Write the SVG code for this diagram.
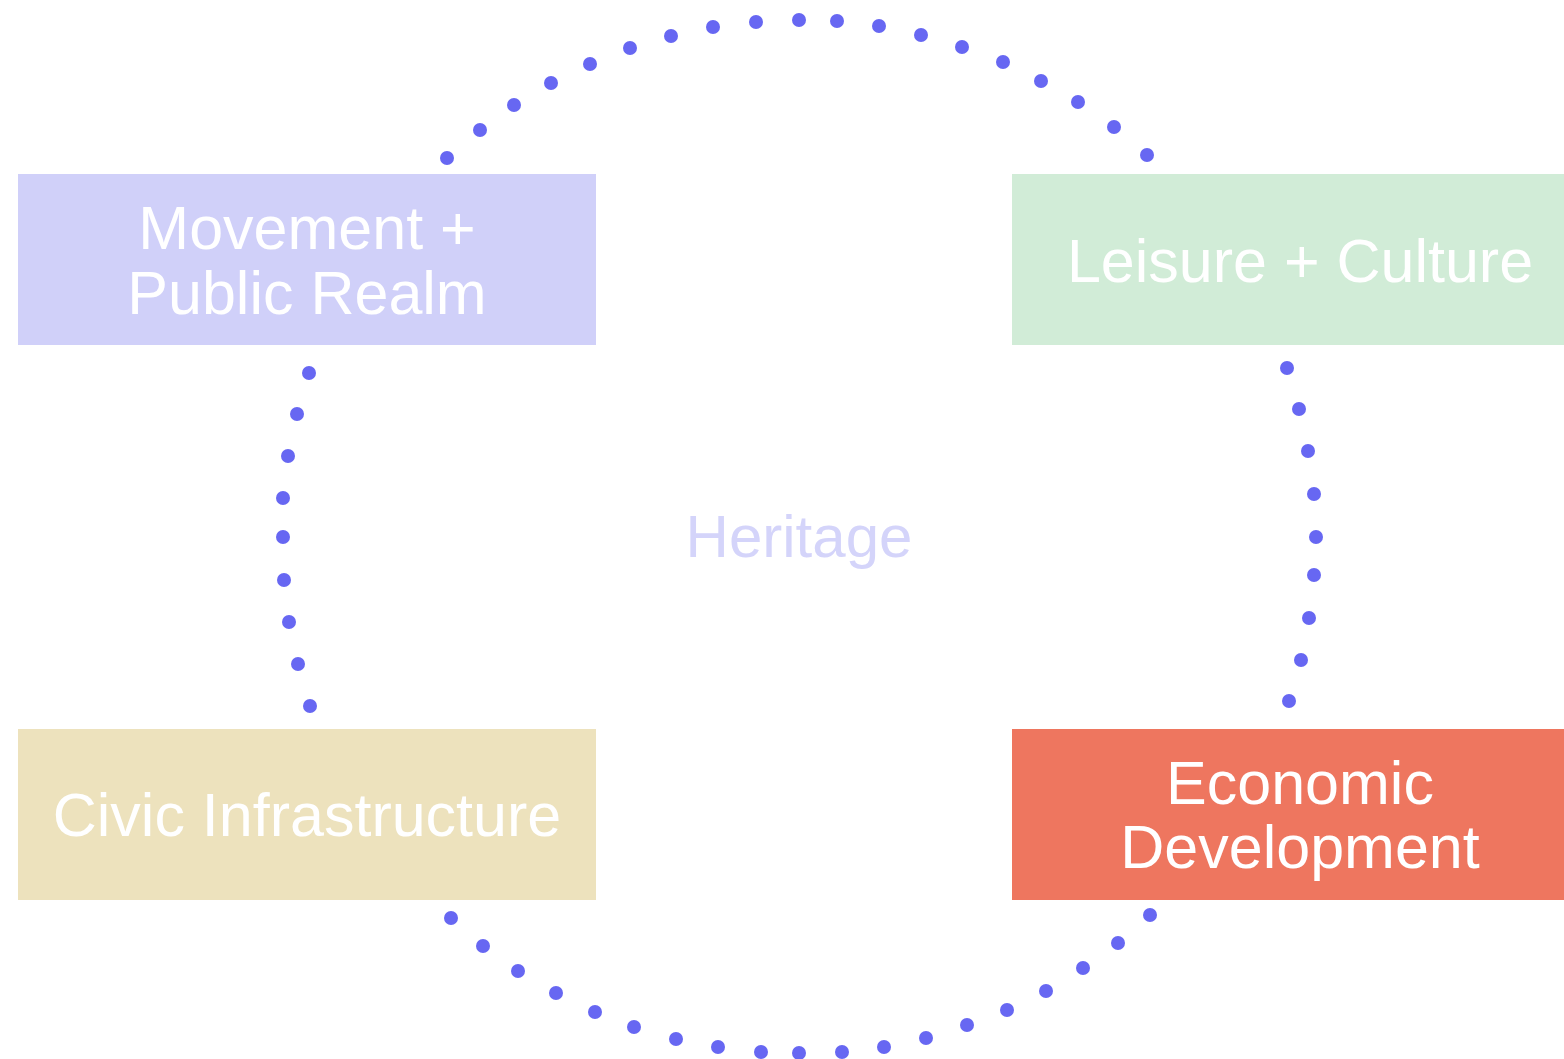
<svg xmlns="http://www.w3.org/2000/svg" width="1564" height="1059" viewBox="0 0 1564 1059">
<style>
.lbl{font-family:"Liberation Sans",Arial,sans-serif;font-size:61px;fill:#ffffff;text-anchor:middle}
.her{font-family:"Liberation Sans",Arial,sans-serif;font-size:60px;fill:#d4d4fa;text-anchor:middle}
.dot{fill:#6767f2}
</style>
<rect width="1564" height="1059" fill="#ffffff"/>
<g id="connectors">
<g id="top-arc">
<circle class="dot" cx="447" cy="158" r="7"/><circle class="dot" cx="480" cy="130" r="7"/><circle class="dot" cx="514" cy="105" r="7"/><circle class="dot" cx="551" cy="83" r="7"/><circle class="dot" cx="590" cy="64" r="7"/><circle class="dot" cx="630" cy="48" r="7"/><circle class="dot" cx="671" cy="36" r="7"/><circle class="dot" cx="713" cy="27" r="7"/><circle class="dot" cx="756" cy="22" r="7"/><circle class="dot" cx="799" cy="20" r="7"/><circle class="dot" cx="837" cy="21" r="7"/><circle class="dot" cx="879" cy="26" r="7"/><circle class="dot" cx="921" cy="35" r="7"/><circle class="dot" cx="962" cy="47" r="7"/><circle class="dot" cx="1003" cy="62" r="7"/><circle class="dot" cx="1041" cy="81" r="7"/><circle class="dot" cx="1078" cy="102" r="7"/><circle class="dot" cx="1114" cy="127" r="7"/><circle class="dot" cx="1147" cy="155" r="7"/>
</g>
<g id="left-arc">
<circle class="dot" cx="309" cy="373" r="7"/><circle class="dot" cx="297" cy="414" r="7"/><circle class="dot" cx="288" cy="456" r="7"/><circle class="dot" cx="283" cy="498" r="7"/><circle class="dot" cx="283" cy="537" r="7"/><circle class="dot" cx="284" cy="580" r="7"/><circle class="dot" cx="289" cy="622" r="7"/><circle class="dot" cx="298" cy="664" r="7"/><circle class="dot" cx="310" cy="706" r="7"/>
</g>
<g id="right-arc">
<circle class="dot" cx="1287" cy="368" r="7"/><circle class="dot" cx="1299" cy="409" r="7"/><circle class="dot" cx="1308" cy="451" r="7"/><circle class="dot" cx="1314" cy="494" r="7"/><circle class="dot" cx="1316" cy="537" r="7"/><circle class="dot" cx="1314" cy="575" r="7"/><circle class="dot" cx="1309" cy="618" r="7"/><circle class="dot" cx="1301" cy="660" r="7"/><circle class="dot" cx="1289" cy="701" r="7"/>
</g>
<g id="bottom-arc">
<circle class="dot" cx="451" cy="918" r="7"/><circle class="dot" cx="483" cy="946" r="7"/><circle class="dot" cx="518" cy="971" r="7"/><circle class="dot" cx="556" cy="993" r="7"/><circle class="dot" cx="595" cy="1012" r="7"/><circle class="dot" cx="634" cy="1027" r="7"/><circle class="dot" cx="676" cy="1039" r="7"/><circle class="dot" cx="718" cy="1047" r="7"/><circle class="dot" cx="761" cy="1052" r="7"/><circle class="dot" cx="799" cy="1053" r="7"/><circle class="dot" cx="842" cy="1052" r="7"/><circle class="dot" cx="884" cy="1047" r="7"/><circle class="dot" cx="926" cy="1038" r="7"/><circle class="dot" cx="967" cy="1025" r="7"/><circle class="dot" cx="1007" cy="1010" r="7"/><circle class="dot" cx="1046" cy="991" r="7"/><circle class="dot" cx="1083" cy="968" r="7"/><circle class="dot" cx="1118" cy="943" r="7"/><circle class="dot" cx="1150" cy="915" r="7"/>
</g>
</g>
<g id="node-movement">
<rect x="18" y="174" width="578" height="171" fill="#d0d0f9"/>
<text class="lbl" x="307" y="249">Movement +</text>
<text class="lbl" x="307" y="314">Public Realm</text>
</g>
<g id="node-leisure">
<rect x="1012" y="174" width="578" height="171" fill="#d1ecd7"/>
<text class="lbl" x="1300" y="282">Leisure + Culture</text>
</g>
<g id="node-civic">
<rect x="18" y="729" width="578" height="171" fill="#ede2bd"/>
<text class="lbl" x="307" y="836">Civic Infrastructure</text>
</g>
<g id="node-economic">
<rect x="1012" y="729" width="578" height="171" fill="#ee765f"/>
<text class="lbl" x="1300" y="804">Economic</text>
<text class="lbl" x="1300" y="868">Development</text>
</g>
<g id="node-heritage">
<text class="her" x="799" y="557">Heritage</text>
</g>
</svg>
